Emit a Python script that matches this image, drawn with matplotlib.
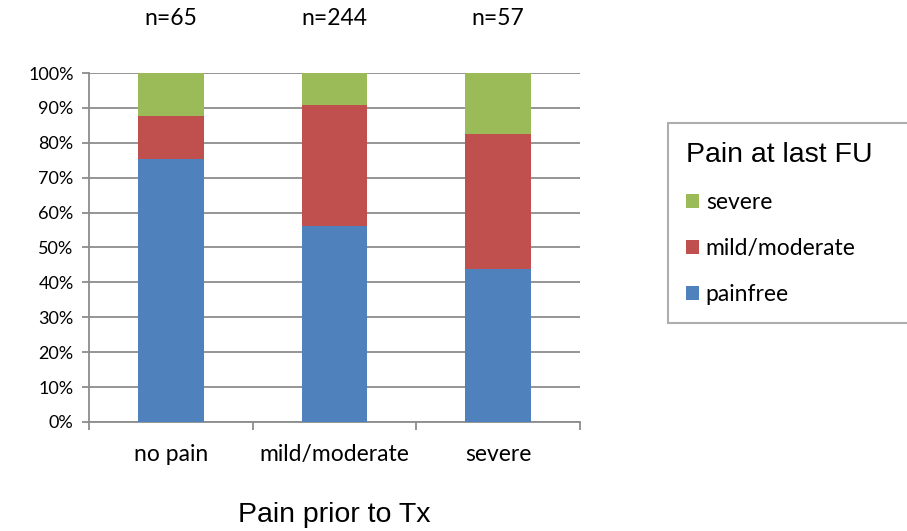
import numpy as np
import matplotlib.pyplot as plt

# Anteile je Gruppe (Schmerz vor Therapie)
groups = ['no pain', 'mild/moderate', 'severe']
n_counts = [65, 244, 57]
painfree = [75.4, 56.1, 43.9]
mild_moderate = [12.3, 34.8, 38.6]
severe = [12.3, 9.1, 17.5]

c_blue = '#4F81BD'
c_red = '#C0504D'
c_green = '#9BBB59'
grid_c = '#8C8C8C'

tick_font = 'Lato'
title_font = 'Liberation Sans'

fig = plt.figure(figsize=(9.07, 5.31), dpi=100)
ax = fig.add_axes([0.0981, 0.2053, 0.5414, 0.6572])

x = np.arange(len(groups))
w = 0.4
painfree = np.array(painfree)
mild_moderate = np.array(mild_moderate)
severe = np.array(severe)

b1 = ax.bar(x, painfree, w, color=c_blue, zorder=3, label='painfree')
b2 = ax.bar(x, mild_moderate, w, bottom=painfree, color=c_red, zorder=3, label='mild/moderate')
b3 = ax.bar(x, severe, w, bottom=painfree + mild_moderate, color=c_green, zorder=3, label='severe')

ax.set_xlim(-0.5, len(groups) - 0.5)
ax.set_ylim(0, 100)
ax.set_yticks(np.arange(0, 101, 10))
ax.set_yticklabels([f'{v}%' for v in range(0, 101, 10)], fontsize=13, family=tick_font)
ax.yaxis.grid(True, color=grid_c, lw=1.3, zorder=0)

# x-Achse: Striche an Gruppengrenzen, Beschriftung in der Mitte
ax.set_xticks(np.arange(-0.5, len(groups), 1))
ax.set_xticklabels([])
ax.set_xticks(x, minor=True)
ax.set_xticklabels(groups, minor=True, fontsize=16.5, family=tick_font)
ax.tick_params(axis='x', which='major', length=6, width=1.3, color=grid_c, direction='out')
ax.tick_params(axis='x', which='minor', length=0, pad=16)
ax.tick_params(axis='y', length=5, width=1.3, color=grid_c, pad=6)

for s in ['top', 'right']:
    ax.spines[s].set_visible(False)
for s in ['left', 'bottom']:
    ax.spines[s].set_color(grid_c)
    ax.spines[s].set_linewidth(1.3)

for xi, n in zip(x, n_counts):
    ax.annotate(f'n={n}', (xi, 1.1576), xycoords=('data', 'axes fraction'),
                ha='center', va='center', fontsize=16.5, family=tick_font, annotation_clip=False)

fig.text(0.0981 + 0.5414 / 2, 0.030, 'Pain prior to Tx', fontsize=20.5, family=title_font,
         ha='center', va='center')

leg = fig.legend([b3, b2, b1], ['severe', 'mild/moderate', 'painfree'],
                 loc='upper left', bbox_to_anchor=(0.7365, 0.768, 0.32, 0.0), mode='expand',
                 title='Pain at last FU', title_fontproperties={'family': title_font, 'size': 20.5},
                 prop={'family': tick_font, 'size': 16.5}, handlelength=0.55, handleheight=0.55,
                 handletextpad=0.3, labelspacing=1.08, borderpad=0.8, alignment='left',
                 fancybox=False, edgecolor='#9A9A9A', shadow=False, borderaxespad=0)
leg.get_frame().set_linewidth(1.5)

fig.savefig('out.png', dpi=100)
